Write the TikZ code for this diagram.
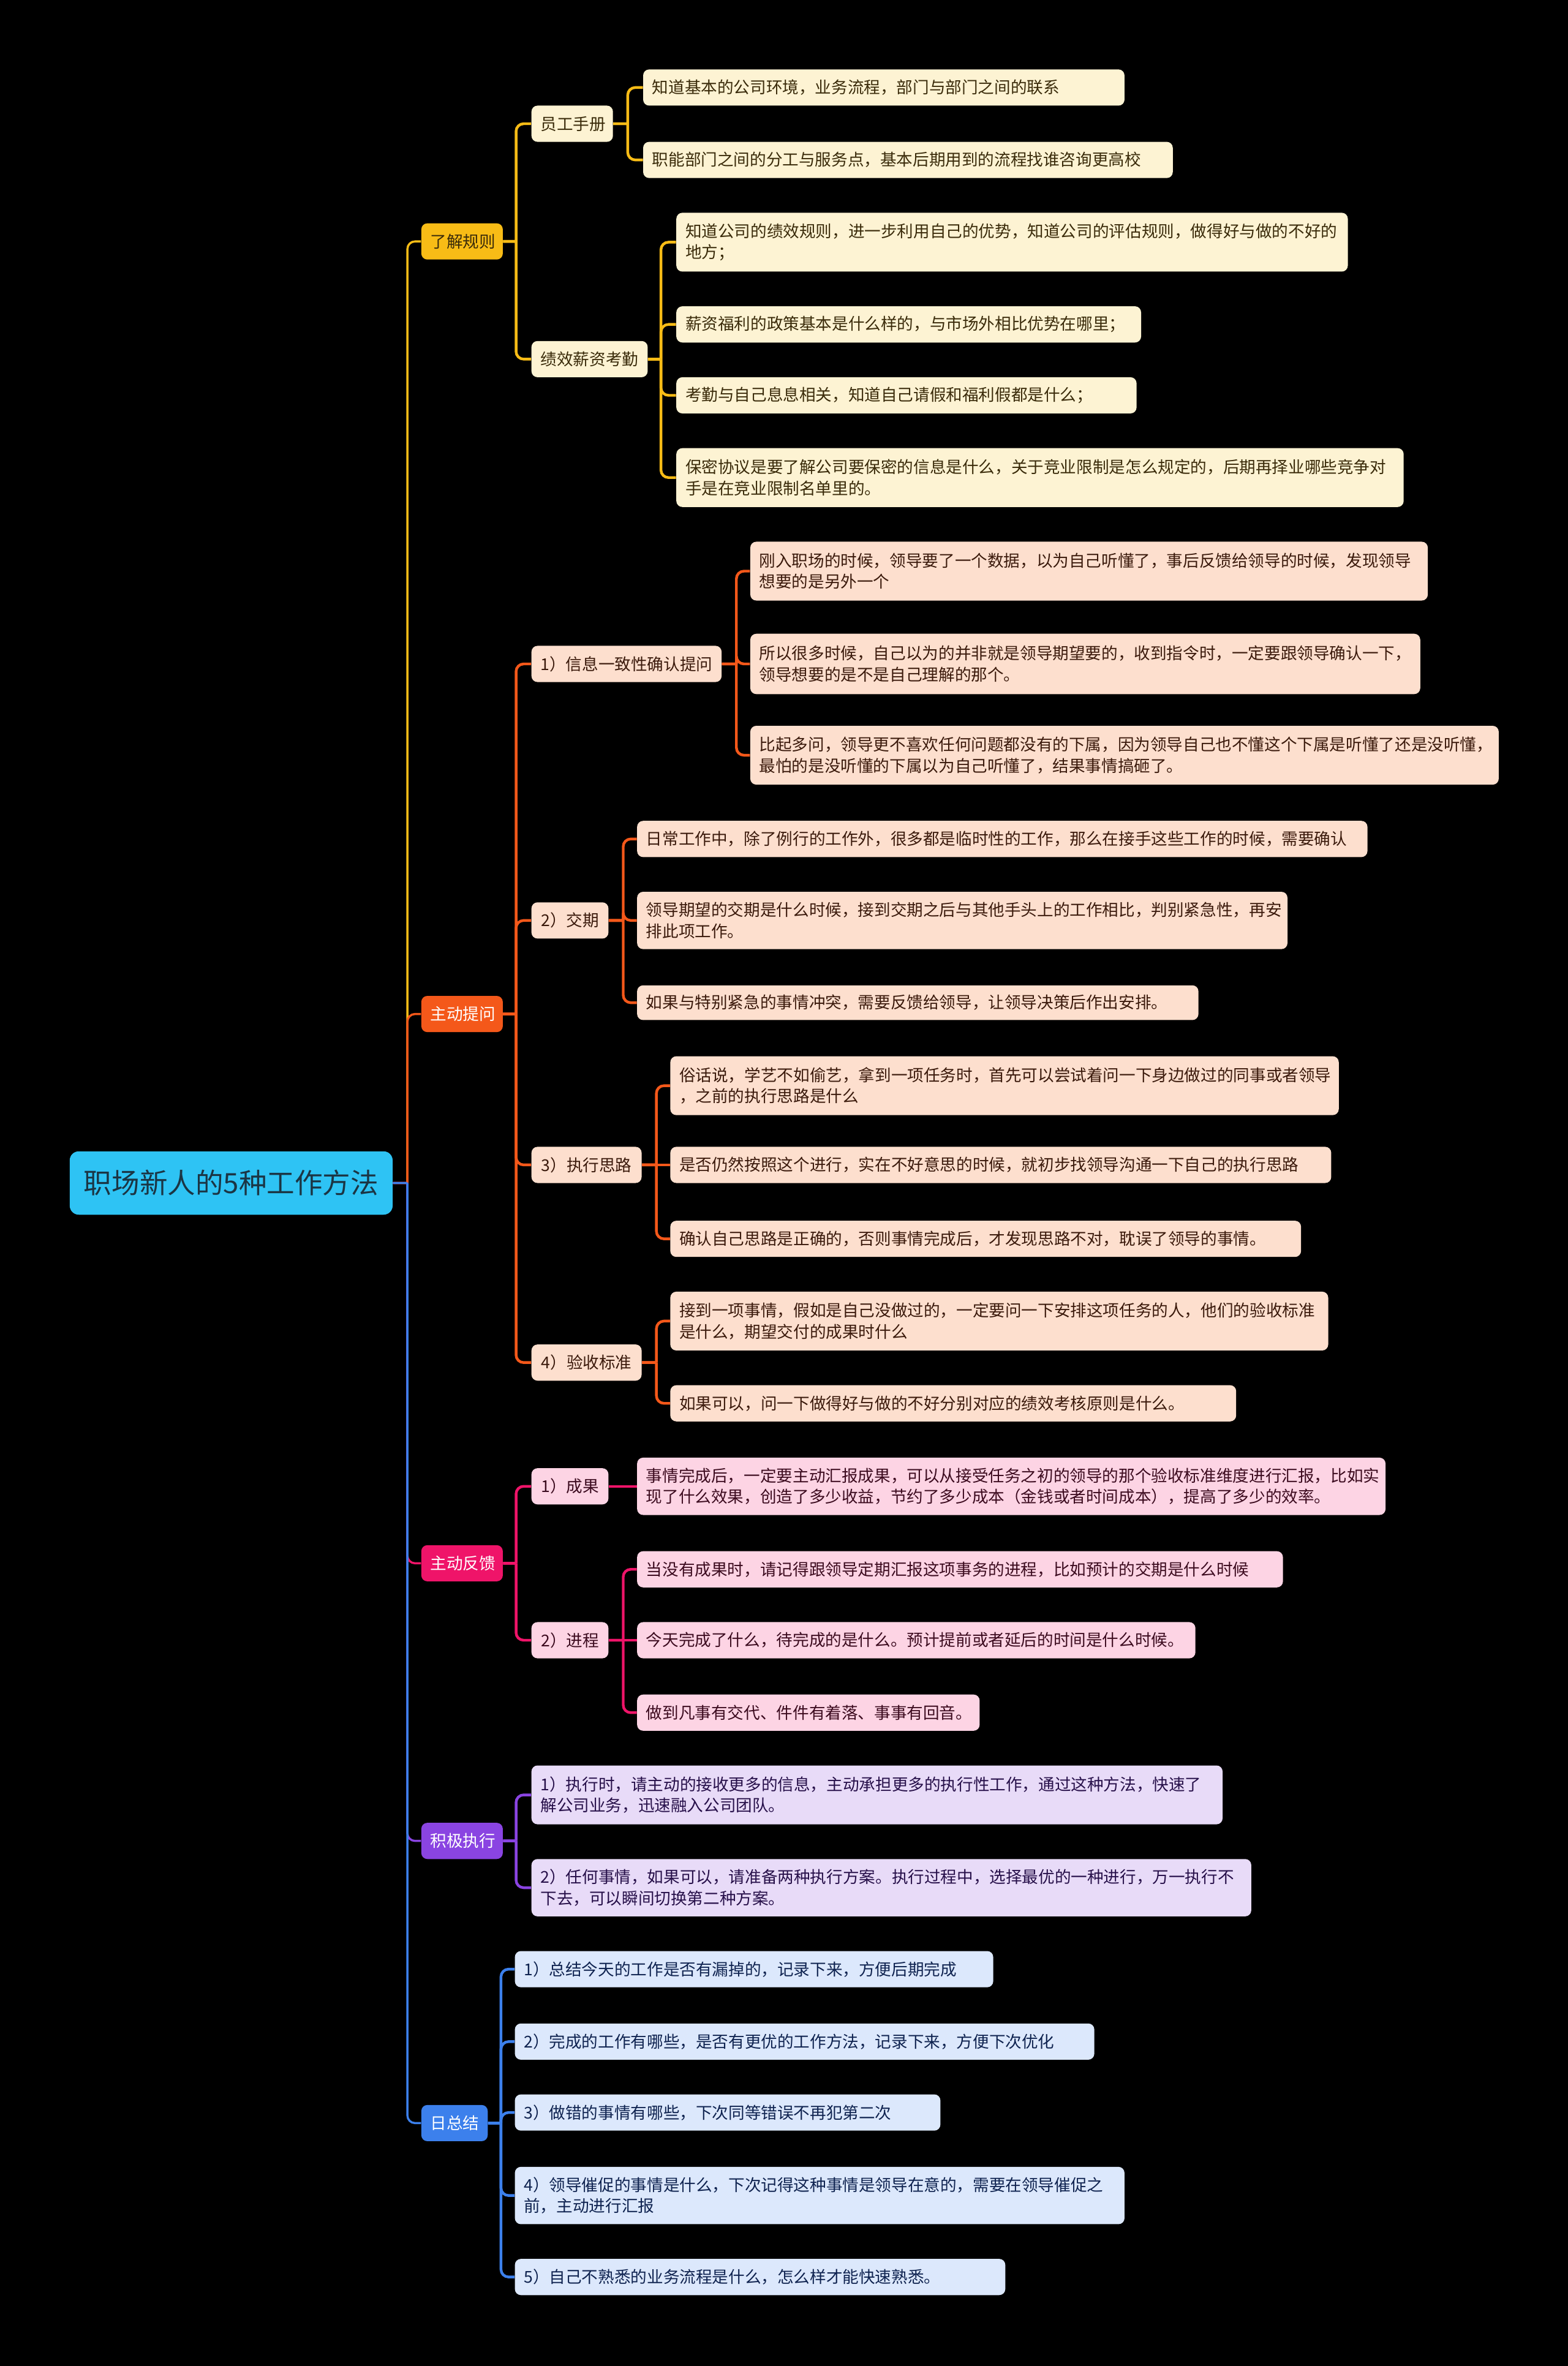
\documentclass[tikz,border=0pt]{standalone}
\usepackage{fontspec}
\setmainfont{Noto Sans CJK SC}
\usetikzlibrary{backgrounds}
\definecolor{rootc}{HTML}{2EC3F4}
\definecolor{roott}{HTML}{1B3544}
\definecolor{yc}{HTML}{F8BC16}
\definecolor{yl}{HTML}{FDF3D3}
\definecolor{yt}{HTML}{3A2B0A}
\definecolor{oc}{HTML}{F4581A}
\definecolor{ol}{HTML}{FDDFCE}
\definecolor{ot}{HTML}{3B1A0C}
\definecolor{pc}{HTML}{EF1469}
\definecolor{pl}{HTML}{FDD4E4}
\definecolor{pkt}{HTML}{3C0B1F}
\definecolor{vc}{HTML}{8A44E2}
\definecolor{vl}{HTML}{E8DBF8}
\definecolor{vt}{HTML}{27104A}
\definecolor{bc}{HTML}{3C80EC}
\definecolor{bl}{HTML}{DCE8FC}
\definecolor{bt}{HTML}{0F2350}
\tikzset{
  nbox/.style={rounded corners=4pt, inner xsep=6pt, inner ysep=0pt, anchor=west,
    font=\fontsize{10.8}{14}\selectfont, align=left},
  ylf/.style={nbox, fill=yl, text=yt},
  olf/.style={nbox, fill=ol, text=ot},
  plf/.style={nbox, fill=pl, text=pkt},
  vlf/.style={nbox, fill=vl, text=vt},
  blf/.style={nbox, fill=bl, text=bt},
  mid/.style={align=center},
  topicy/.style={nbox, align=center, fill=yc, text=yt},
  topico/.style={nbox, align=center, fill=oc, text=white},
  topicp/.style={nbox, align=center, fill=pc, text=white},
  topicv/.style={nbox, align=center, fill=vc, text=white},
  topicb/.style={nbox, align=center, fill=bc, text=white},
  rootbox/.style={nbox, align=center, fill=rootc, text=roott, rounded corners=6pt,
    font=\fontsize{18.5}{22}\selectfont},
  mainln/.style={line width=1.4pt},
  subln/.style={line width=1.8pt},
}
% #1 name, #2 style, #3 x1, #4 x2, #5 y1, #6 y2, #7 text
\newcommand\mmnode[7]{%
  \pgfmathsetmacro\mmw{#4-#3}%
  \pgfmathsetmacro\mmh{#6-#5}%
  \pgfmathsetmacro\mmtw{#4-#3-12}%
  \node[#2, minimum width=\mmw pt, minimum height=\mmh pt, text width=\mmtw pt]
    (#1) at (#3,{(#5+#6)/2}) {#7};}
% #1 style, #2 parent, #3 child, #4 junction coordinate
\newcommand\mmlink[4]{%
  \draw[#1] (#2.east) -- (#2.east -| #4) (#2.east -| #4) [rounded corners=5pt]
    -- (#4 |- #3.west) -- (#3.west);}
% straight link for a child level with its parent
\newcommand\mmstraight[3]{\draw[#1] (#2.east) -- (#3.west);}
\begin{document}
\begin{tikzpicture}[x=1pt,y=-1pt]
\useasboundingbox (0,0) rectangle (1039,1568);

% junction coordinates
\coordinate (jR) at (270,0);
\coordinate (jA) at (342,0);
\coordinate (jA1) at (416,0);
\coordinate (jA2) at (438,0);
\coordinate (jB) at (342,0);
\coordinate (jB1) at (488,0);
\coordinate (jB2) at (413,0);
\coordinate (jB3) at (435,0);
\coordinate (jB4) at (435,0);
\coordinate (jC) at (342,0);
\coordinate (jC2) at (413,0);
\coordinate (jD) at (342,0);
\coordinate (jE) at (332,0);

% nodes
\mmnode{root}{rootbox}{46}{260}{763}{805}{职场新人的5种工作方法}

\mmnode{A}{topicy}{279}{333}{148}{172}{了解规则}
\mmnode{A1}{ylf,mid}{352}{406}{70}{94}{员工手册}
\mmnode{A1a}{ylf}{426}{745}{46}{70}{知道基本的公司环境，业务流程，部门与部门之间的联系}
\mmnode{A1b}{ylf}{426}{777}{94}{118}{职能部门之间的分工与服务点，基本后期用到的流程找谁咨询更高校}
\mmnode{A2}{ylf,mid}{352}{429}{226}{250}{绩效薪资考勤}
\mmnode{A2a}{ylf}{448}{893}{141}{180}{知道公司的绩效规则，进一步利用自己的优势，知道公司的评估规则，做得好与做的不好的\\地方；}
\mmnode{A2b}{ylf}{448}{756}{203}{227}{薪资福利的政策基本是什么样的，与市场外相比优势在哪里；}
\mmnode{A2c}{ylf}{448}{753}{250}{274}{考勤与自己息息相关，知道自己请假和福利假都是什么；}
\mmnode{A2d}{ylf}{448}{930}{297}{336}{保密协议是要了解公司要保密的信息是什么，关于竞业限制是怎么规定的，后期再择业哪些竞争对\\手是在竞业限制名单里的。}

\mmnode{B}{topico}{279}{333}{660}{684}{主动提问}
\mmnode{B1}{olf,mid}{352}{478}{428}{452}{1）信息一致性确认提问}
\mmnode{B1a}{olf}{497}{946}{359}{398}{刚入职场的时候，领导要了一个数据，以为自己听懂了，事后反馈给领导的时候，发现领导\\想要的是另外一个}
\mmnode{B1b}{olf}{497}{941}{420}{460}{所以很多时候，自己以为的并非就是领导期望要的，收到指令时，一定要跟领导确认一下，\\领导想要的是不是自己理解的那个。}
\mmnode{B1c}{olf}{497}{993}{481}{520}{比起多问，领导更不喜欢任何问题都没有的下属，因为领导自己也不懂这个下属是听懂了还是没听懂，\\最怕的是没听懂的下属以为自己听懂了，结果事情搞砸了。}
\mmnode{B2}{olf,mid}{352}{403}{598}{622}{2）交期}
\mmnode{B2a}{olf}{422}{906}{544}{568}{日常工作中，除了例行的工作外，很多都是临时性的工作，那么在接手这些工作的时候，需要确认}
\mmnode{B2b}{olf}{422}{853}{591}{629}{领导期望的交期是什么时候，接到交期之后与其他手头上的工作相比，判别紧急性，再安\\排此项工作。}
\mmnode{B2c}{olf}{422}{794}{653}{676}{如果与特别紧急的事情冲突，需要反馈给领导，让领导决策后作出安排。}
\mmnode{B3}{olf,mid}{352}{425}{760}{784}{3）执行思路}
\mmnode{B3a}{olf}{444}{887}{700}{739}{俗话说，学艺不如偷艺，拿到一项任务时，首先可以尝试着问一下身边做过的同事或者领导\\，之前的执行思路是什么}
\mmnode{B3b}{olf}{444}{882}{760}{784}{是否仍然按照这个进行，实在不好意思的时候，就初步找领导沟通一下自己的执行思路}
\mmnode{B3c}{olf}{444}{862}{809}{833}{确认自己思路是正确的，否则事情完成后，才发现思路不对，耽误了领导的事情。}
\mmnode{B4}{olf,mid}{352}{425}{891}{915}{4）验收标准}
\mmnode{B4a}{olf}{444}{880}{856}{895}{接到一项事情，假如是自己没做过的，一定要问一下安排这项任务的人，他们的验收标准\\是什么，期望交付的成果时什么}
\mmnode{B4b}{olf}{444}{819}{918}{942}{如果可以，问一下做得好与做的不好分别对应的绩效考核原则是什么。}

\mmnode{C}{topicp}{279}{333}{1024}{1048}{主动反馈}
\mmnode{C1}{plf,mid}{352}{403}{973}{997}{1）成果}
\mmnode{C1a}{plf}{422}{918}{966}{1004}{事情完成后，一定要主动汇报成果，可以从接受任务之初的领导的那个验收标准维度进行汇报，比如实\\现了什么效果，创造了多少收益，节约了多少成本（金钱或者时间成本），提高了多少的效率。}
\mmnode{C2}{plf,mid}{352}{403}{1075}{1099}{2）进程}
\mmnode{C2a}{plf}{422}{850}{1028}{1052}{当没有成果时，请记得跟领导定期汇报这项事务的进程，比如预计的交期是什么时候}
\mmnode{C2b}{plf}{422}{792}{1075}{1099}{今天完成了什么，待完成的是什么。预计提前或者延后的时间是什么时候。}
\mmnode{C2c}{plf}{422}{649}{1123}{1147}{做到凡事有交代、件件有着落、事事有回音。}

\mmnode{D}{topicv}{279}{333}{1208}{1232}{积极执行}
\mmnode{Da}{vlf}{352}{810}{1170}{1209}{1）执行时，请主动的接收更多的信息，主动承担更多的执行性工作，通过这种方法，快速了\\解公司业务，迅速融入公司团队。}
\mmnode{Db}{vlf}{352}{829}{1232}{1270}{2）任何事情，如果可以，请准备两种执行方案。执行过程中，选择最优的一种进行，万一执行不\\下去，可以瞬间切换第二种方案。}

\mmnode{E}{topicb}{279}{323}{1395}{1419}{日总结}
\mmnode{Ea}{blf}{341}{658}{1293}{1317}{1）总结今天的工作是否有漏掉的，记录下来，方便后期完成}
\mmnode{Eb}{blf}{341}{725}{1341}{1365}{2）完成的工作有哪些，是否有更优的工作方法，记录下来，方便下次优化}
\mmnode{Ec}{blf}{341}{623}{1388}{1412}{3）做错的事情有哪些，下次同等错误不再犯第二次}
\mmnode{Ed}{blf}{341}{745}{1436}{1474}{4）领导催促的事情是什么，下次记得这种事情是领导在意的，需要在领导催促之\\前，主动进行汇报}
\mmnode{Ee}{blf}{341}{666}{1497}{1521}{5）自己不熟悉的业务流程是什么，怎么样才能快速熟悉。}

% background and connectors, behind the nodes
\begin{scope}[on background layer]
\fill[black] (0,0) rectangle (1039,1568);
% root level
\mmlink{mainln,yc}{root}{A}{jR}
\mmlink{mainln,oc}{root}{B}{jR}
\mmlink{mainln,pc}{root}{C}{jR}
\mmlink{mainln,vc}{root}{D}{jR}
\mmlink{mainln,bc}{root}{E}{jR}
% 了解规则
\mmlink{subln,yc}{A}{A1}{jA}
\mmlink{subln,yc}{A}{A2}{jA}
\mmlink{subln,yc}{A1}{A1a}{jA1}
\mmlink{subln,yc}{A1}{A1b}{jA1}
\mmlink{subln,yc}{A2}{A2a}{jA2}
\mmlink{subln,yc}{A2}{A2b}{jA2}
\mmlink{subln,yc}{A2}{A2c}{jA2}
\mmlink{subln,yc}{A2}{A2d}{jA2}
% 主动提问
\mmlink{subln,oc}{B}{B1}{jB}
\mmlink{subln,oc}{B}{B2}{jB}
\mmlink{subln,oc}{B}{B3}{jB}
\mmlink{subln,oc}{B}{B4}{jB}
\mmlink{subln,oc}{B1}{B1a}{jB1}
\mmlink{subln,oc}{B1}{B1b}{jB1}
\mmlink{subln,oc}{B1}{B1c}{jB1}
\mmlink{subln,oc}{B2}{B2a}{jB2}
\mmlink{subln,oc}{B2}{B2b}{jB2}
\mmlink{subln,oc}{B2}{B2c}{jB2}
\mmlink{subln,oc}{B3}{B3a}{jB3}
\mmstraight{subln,oc}{B3}{B3b}
\mmlink{subln,oc}{B3}{B3c}{jB3}
\mmlink{subln,oc}{B4}{B4a}{jB4}
\mmlink{subln,oc}{B4}{B4b}{jB4}
% 主动反馈
\mmlink{subln,pc}{C}{C1}{jC}
\mmlink{subln,pc}{C}{C2}{jC}
\mmstraight{subln,pc}{C1}{C1a}
\mmlink{subln,pc}{C2}{C2a}{jC2}
\mmstraight{subln,pc}{C2}{C2b}
\mmlink{subln,pc}{C2}{C2c}{jC2}
% 积极执行
\mmlink{subln,vc}{D}{Da}{jD}
\mmlink{subln,vc}{D}{Db}{jD}
% 日总结
\mmlink{subln,bc}{E}{Ea}{jE}
\mmlink{subln,bc}{E}{Eb}{jE}
\mmlink{subln,bc}{E}{Ec}{jE}
\mmlink{subln,bc}{E}{Ed}{jE}
\mmlink{subln,bc}{E}{Ee}{jE}
\end{scope}

\end{tikzpicture}
\end{document}
